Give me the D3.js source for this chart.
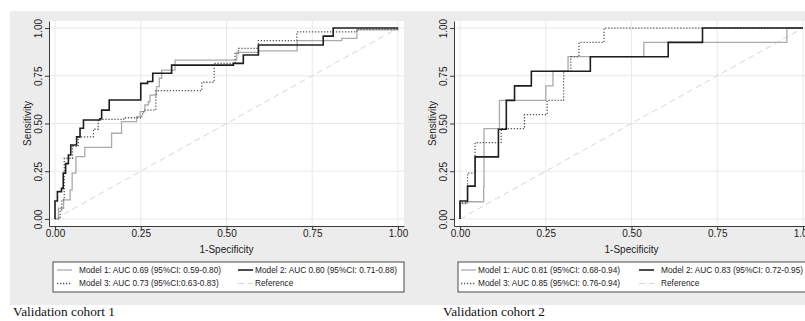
<!DOCTYPE html>
<html>
<head>
<meta charset="utf-8">
<script src="https://cdnjs.cloudflare.com/ajax/libs/d3/7.8.5/d3.min.js"></script>
<style>
body { margin: 0; background: #fff; }
svg { display: block; }
</style>
</head>
<body>
<div id="chart"></div>
<script>
// ROC points: [1-specificity, sensitivity], step corners
var tickValues = [0, 0.25, 0.5, 0.75, 1];
var cohortTitles = ["Validation cohort 1", "Validation cohort 2"];
var cohort1Labels = ["Model 1: AUC 0.69 (95%CI: 0.59-0.80)", "Model 2: AUC 0.80 (95%CI: 0.71-0.88)",
                     "Model 3: AUC 0.73 (95%CI:0.63-0.83)", "Reference"];
var cohort2Labels = ["Model 1: AUC 0.81 (95%CI: 0.68-0.94)", "Model 2: AUC 0.83 (95%CI: 0.72-0.95)",
                     "Model 3: AUC 0.85 (95%CI: 0.76-0.94)", "Reference"];

var cohort1Model1 = [[0,0],[0.01,0.056],[0.025,0.10],[0.044,0.152],[0.05,0.24],[0.061,0.326],[0.087,0.375],
  [0.165,0.449],[0.194,0.51],[0.238,0.536],[0.248,0.562],[0.262,0.597],[0.272,0.614],[0.277,0.649],
  [0.296,0.693],[0.304,0.737],[0.311,0.78],[0.35,0.832],[0.53,0.873],[0.593,0.881],[0.706,0.934],
  [0.836,0.946],[0.88,0.99],[1,1]];
var cohort1Model2 = [[0,0],[0,0.094],[0.007,0.143],[0.019,0.16],[0.024,0.24],[0.031,0.29],[0.039,0.335],
  [0.046,0.387],[0.063,0.43],[0.073,0.475],[0.083,0.518],[0.131,0.525],[0.136,0.57],[0.158,0.623],
  [0.25,0.71],[0.27,0.72],[0.285,0.763],[0.34,0.806],[0.52,0.815],[0.549,0.859],[0.593,0.911],
  [0.782,0.958],[0.811,1],[1,1]];
var cohort1Model3 = [[0,0],[0.015,0.047],[0.02,0.10],[0.027,0.318],[0.051,0.38],[0.068,0.43],[0.112,0.47],
  [0.126,0.522],[0.20,0.53],[0.253,0.55],[0.258,0.57],[0.294,0.672],[0.428,0.716],[0.464,0.815],
  [0.525,0.867],[0.535,0.894],[0.593,0.934],[0.705,0.98],[0.88,0.993],[1,1]];

var cohort2Model1 = [[0,0],[0,0.08],[0.02,0.09],[0.069,0.17],[0.07,0.473],[0.115,0.621],[0.25,0.697],
  [0.271,0.774],[0.315,0.85],[0.536,0.925],[0.953,1],[1,1]];
var cohort2Model2 = [[0,0],[0,0.094],[0.022,0.172],[0.044,0.325],[0.112,0.47],[0.135,0.621],[0.159,0.697],
  [0.208,0.774],[0.38,0.85],[0.607,0.925],[0.707,1],[1,1]];
var cohort2Model3 = [[0,0],[0,0.085],[0.022,0.24],[0.044,0.40],[0.12,0.473],[0.188,0.546],[0.254,0.621],
  [0.302,0.774],[0.323,0.85],[0.347,0.925],[0.42,1],[1,1]];

var styles = [
  {stroke: "#aaaaaa", width: 1.3, dash: null},
  {stroke: "#1e1e1e", width: 1.6, dash: null},
  {stroke: "#5a5a5a", width: 1.3, dash: "1.3,1.7"},
  {stroke: "#d6d6d6", width: 1, dash: "6,4"}
];

var svg = d3.select("#chart").append("svg")
  .attr("width", 805)
  .attr("height", 321);

svg.append("rect")
  .attr("x", 10).attr("y", 11)
  .attr("width", 800).attr("height", 294)
  .attr("fill", "#ececec");

var font = "'Liberation Sans', Arial, sans-serif";

function drawPanel(p, curves, labels, title) {
  var x = d3.scaleLinear().domain([-0.0175, 1.0175]).range([p.left, p.left + 355]);
  var y = d3.scaleLinear().domain([-0.037, 1.037]).range([226, 21]);
  var g = svg.append("g");

  g.append("rect")
    .attr("x", x.range()[0]).attr("y", 21)
    .attr("width", 355).attr("height", 205)
    .attr("fill", "#fff");

  g.selectAll(".gx").data(tickValues).enter().append("line")
    .attr("x1", function (d) { return x(d); }).attr("x2", function (d) { return x(d); })
    .attr("y1", 21).attr("y2", 226)
    .attr("stroke", "#e4ebec").attr("stroke-width", 1);
  g.selectAll(".gy").data(tickValues).enter().append("line")
    .attr("x1", x.range()[0]).attr("x2", x.range()[1])
    .attr("y1", function (d) { return y(d); }).attr("y2", function (d) { return y(d); })
    .attr("stroke", "#e4ebec").attr("stroke-width", 1);

  var line = d3.line()
    .x(function (d) { return x(d[0]); })
    .y(function (d) { return y(d[1]); })
    .curve(d3.curveStepAfter);

  var all = curves.concat([[[0, 0], [1, 1]]]);
  // reference first, then models 1, 3, 2 on top
  [3, 0, 2, 1].forEach(function (i) {
    g.append("path")
      .datum(all[i])
      .attr("d", i == 3 ? d3.line().x(function (d) { return x(d[0]); }).y(function (d) { return y(d[1]); }) : line)
      .attr("fill", "none")
      .attr("stroke", styles[i].stroke)
      .attr("stroke-width", styles[i].width)
      .attr("stroke-dasharray", styles[i].dash);
  });

  var xAxis = g.append("g")
    .attr("transform", "translate(0,226)")
    .call(d3.axisBottom(x).tickValues(tickValues).tickFormat(d3.format(".2f")).tickSize(4).tickSizeOuter(0));
  xAxis.selectAll("text").attr("y", 4).attr("dy", "0.71em");

  var yAxis = g.append("g")
    .attr("transform", "translate(" + x.range()[0] + ",0)")
    .call(d3.axisLeft(y).tickValues(tickValues).tickFormat(d3.format(".2f")).tickSize(4).tickSizeOuter(0));
  yAxis.selectAll("text")
    .attr("transform", "rotate(-90)")
    .attr("x", 0).attr("y", -7).attr("dy", 0)
    .style("text-anchor", "middle");

  g.selectAll(".domain, .tick line").attr("stroke", "#3a3a3a");
  g.selectAll(".tick text").attr("fill", "#222").style("font-family", font).style("font-size", "10px");

  g.append("text")
    .attr("x", x(0.5)).attr("y", 252.5)
    .style("text-anchor", "middle")
    .style("font-family", font).style("font-size", "10px").attr("fill", "#222")
    .text("1-Specificity");
  g.append("text")
    .attr("transform", "translate(" + (x.range()[0] - 18) + "," + y(0.5) + ") rotate(-90)")
    .style("text-anchor", "middle")
    .style("font-family", font).style("font-size", "10px").attr("fill", "#222")
    .text("Sensitivity");

  // legend
  g.append("rect")
    .attr("x", p.legX).attr("y", 262)
    .attr("width", p.legW).attr("height", 30)
    .attr("fill", "#fff").attr("stroke", "#4a4a4a").attr("stroke-width", 1);
  var rows = [270, 283.5];
  labels.forEach(function (lab, i) {
    var col = i % 2, ry = rows[Math.floor(i / 2)];
    g.append("line")
      .attr("x1", p.sampleX[col]).attr("x2", p.sampleX[col] + 15)
      .attr("y1", ry).attr("y2", ry)
      .attr("stroke", styles[i].stroke)
      .attr("stroke-width", styles[i].width)
      .attr("stroke-dasharray", styles[i].dash);
    g.append("text")
      .attr("x", p.textX[col]).attr("y", ry).attr("dy", "0.35em")
      .style("font-family", font).style("font-size", "8.3px").attr("fill", "#222")
      .text(lab);
  });

  g.append("text")
    .attr("x", p.captionX).attr("y", 316)
    .style("font-family", "'Liberation Serif', 'Times New Roman', serif")
    .style("font-size", "13.3px").attr("fill", "#111")
    .text(title);
}

drawPanel({left: 49, legX: 53, legW: 351, sampleX: [57, 238], textX: [79, 255], captionX: 13},
  [cohort1Model1, cohort1Model2, cohort1Model3], cohort1Labels, cohortTitles[0]);
drawPanel({left: 454, legX: 458, legW: 360, sampleX: [461, 639], textX: [478, 661], captionX: 443},
  [cohort2Model1, cohort2Model2, cohort2Model3], cohort2Labels, cohortTitles[1]);
</script>
</body>
</html>
